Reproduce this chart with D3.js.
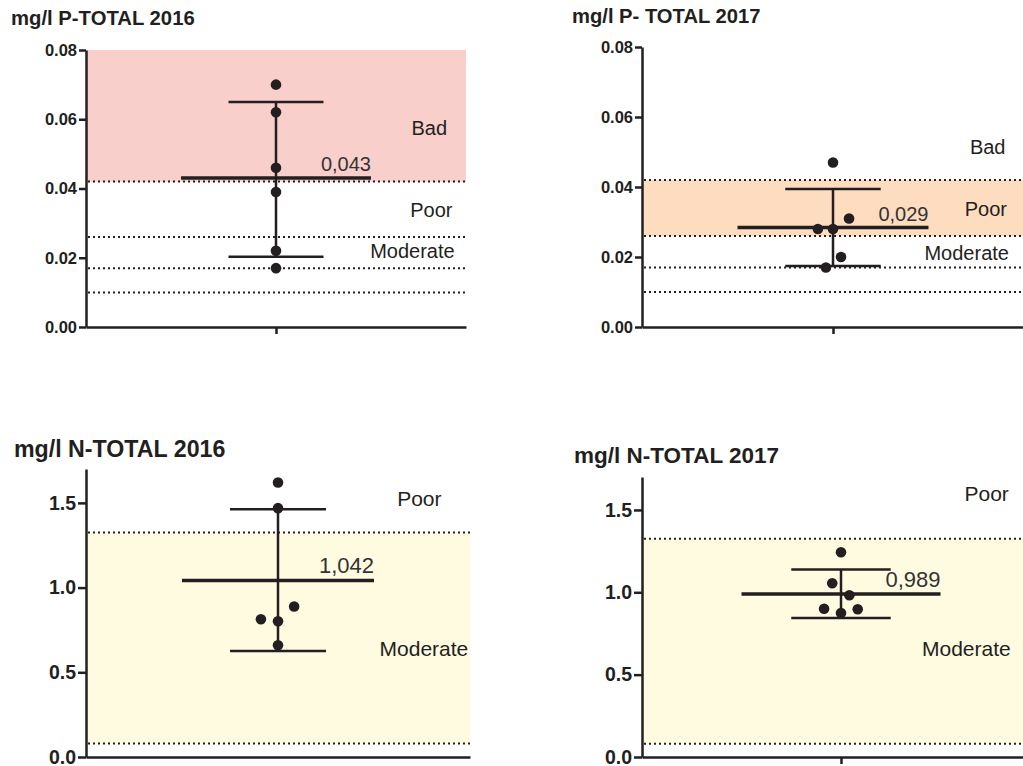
<!DOCTYPE html>
<html>
<head>
<meta charset="utf-8">
<script src="https://cdn.jsdelivr.net/npm/d3@7"></script>
<style>
  body { margin: 0; background: #fff; }
  svg { display: block; font-family: "Liberation Sans", Arial, sans-serif; }
  .axis path, .axis line { stroke: #231f20; stroke-width: 2.5px; }
  .axis text { fill: #231f20; font-weight: bold; }
</style>
</head>
<body>
<script>
// Panel titles
var titles = ['mg/l P-TOTAL 2016', 'mg/l P- TOTAL 2017', 'mg/l N-TOTAL 2016', 'mg/l N-TOTAL 2017'];

var pTotal2016 = [0.070, 0.062, 0.046, 0.039, 0.022, 0.017],
    pTotal2017 = [0.047, 0.031, 0.028, 0.028, 0.020, 0.017],
    nTotal2016 = [1.620, 1.469, 0.888, 0.813, 0.801, 0.660],
    nTotal2017 = [1.243, 1.055, 0.982, 0.900, 0.874, 0.897];

// Horizontal scatter of the dots (in x-domain units, centre = 0)
var pTotal2016Jitter = [0, 0, 0, 0, 0, 0],
    pTotal2017Jitter = [0, 0.084, -0.079, 0, 0.042, -0.037],
    nTotal2016Jitter = [0, 0, 0.084, -0.089, 0, 0],
    nTotal2017Jitter = [0, -0.044, 0.042, -0.085, 0, 0.084];

// Mean and error bar ends
var means = [0.043, 0.0284, 1.042, 0.990],
    meanLabels = ['0,043', '0,029', '1,042', '0,989'],
    errLow = [0.0203, 0.0174, 0.626, 0.844],
    errHigh = [0.065, 0.0394, 1.463, 1.139];

// Class limits (dotted lines) and axis ticks
var pThresholds = [0.042, 0.026, 0.017, 0.010],
    nThresholds = [1.325, 0.08],
    pTicks = [0, 0.02, 0.04, 0.06, 0.08],
    nTicks = [0, 0.5, 1.0, 1.5];

// Shaded class bands [low, high]
var bands = [[0.042, 0.08], [0.026, 0.042], [0.08, 1.325], [0.08, 1.325]],
    bandColors = ['#f9cfcb', '#fddcbf', '#fefbe0', '#fefbe0'];

// Class names and the value they are written at
var zoneNames = [['Bad', 'Poor', 'Moderate'], ['Bad', 'Poor', 'Moderate'], ['Poor', 'Moderate'], ['Poor', 'Moderate']],
    zoneValues = [[0.0575, 0.0338, 0.022], [0.0514, 0.0337, 0.0211], [1.524, 0.638], [1.597, 0.656]];

// ---- layout (pixels) ----
var frames = [
    {x0: 86, x1: 466, yTop: 50, yBot: 327, max: 0.08, fmt: '.2f', tickFont: 16.5, tickSize: 7, titleX: 11, titleY: 25, titleSize: 20.3, meanSize: 20, zoneSize: 20, xTick: true, zoneX: [0.807, 0.818, 0.718]},
    {x0: 642, x1: 1024, yTop: 47, yBot: 327, max: 0.08, fmt: '.2f', tickFont: 16.5, tickSize: 7, titleX: 572, titleY: 23, titleSize: 20.2, meanSize: 20, zoneSize: 20, xTick: true, zoneX: [0.81, 0.80, 0.70]},
    {x0: 86, x1: 470, yTop: 469, yBot: 757, max: 1.7, fmt: '.1f', tickFont: 19.5, tickSize: 8, titleX: 14, titleY: 457, titleSize: 23.2, meanSize: 22, zoneSize: 21, xTick: false, zoneX: [0.736, 0.76]},
    {x0: 642, x1: 1040, yTop: 477, yBot: 757, max: 1.7, fmt: '.1f', tickFont: 19.5, tickSize: 8, titleX: 574, titleY: 463, titleSize: 22.5, meanSize: 22, zoneSize: 21, xTick: true, zoneX: [0.732, 0.63]}
];

var values = [pTotal2016, pTotal2017, nTotal2016, nTotal2017],
    jitters = [pTotal2016Jitter, pTotal2017Jitter, nTotal2016Jitter, nTotal2017Jitter],
    thresholds = [pThresholds, pThresholds, nThresholds, nThresholds],
    ticks = [pTicks, pTicks, nTicks, nTicks];

var ink = '#231f20';

var svg = d3.select('body').append('svg')
    .attr('width', 1023)
    .attr('height', 766);

frames.forEach(function(f, i) {
    var g = svg.append('g');

    var x = d3.scaleLinear().domain([-1, 1]).range([f.x0, f.x1]);
    var y = d3.scaleLinear().domain([0, f.max]).range([f.yBot, f.yTop]);

    // Shaded band
    g.append('rect')
        .attr('x', f.x0 + 1)
        .attr('width', f.x1 - f.x0 - 1)
        .attr('y', y(bands[i][1]))
        .attr('height', y(bands[i][0]) - y(bands[i][1]))
        .attr('fill', bandColors[i]);

    // Dotted class limits
    g.selectAll('.limit')
        .data(thresholds[i])
        .enter()
        .append('line')
        .attr('x1', f.x0 + 2)
        .attr('x2', f.x1)
        .attr('y1', function(d) { return y(d); })
        .attr('y2', function(d) { return y(d); })
        .attr('stroke', ink)
        .attr('stroke-width', 2)
        .attr('stroke-dasharray', '2,3');

    // Axes
    var yAxis = d3.axisLeft(y)
        .tickValues(ticks[i])
        .tickFormat(d3.format(f.fmt))
        .tickSize(f.tickSize)
        .tickSizeOuter(0)
        .tickPadding(2);
    var yg = g.append('g')
        .attr('class', 'axis')
        .attr('transform', 'translate(' + f.x0 + ',0)')
        .call(yAxis);
    yg.selectAll('text')
        .style('font-size', f.tickFont + 'px');

    var xAxis = d3.axisBottom(x)
        .tickValues(f.xTick ? [0] : [])
        .tickFormat('')
        .tickSize(7)
        .tickSizeOuter(0);
    g.append('g')
        .attr('class', 'axis')
        .attr('transform', 'translate(0,' + f.yBot + ')')
        .call(xAxis);

    // Error bar
    g.append('line')
        .attr('x1', x(0)).attr('x2', x(0))
        .attr('y1', y(errLow[i])).attr('y2', y(errHigh[i]))
        .attr('stroke', ink).attr('stroke-width', 2.5);
    g.selectAll('.cap')
        .data([errLow[i], errHigh[i]])
        .enter()
        .append('line')
        .attr('x1', x(-0.25)).attr('x2', x(0.25))
        .attr('y1', function(d) { return y(d); })
        .attr('y2', function(d) { return y(d); })
        .attr('stroke', ink).attr('stroke-width', 2.5);

    // Mean line
    g.append('line')
        .attr('x1', x(-0.5)).attr('x2', x(0.5))
        .attr('y1', y(means[i])).attr('y2', y(means[i]))
        .attr('stroke', ink).attr('stroke-width', 3.5);

    g.append('text')
        .attr('x', x(0.5))
        .attr('y', y(means[i]) - 7)
        .attr('text-anchor', 'end')
        .style('font-size', f.meanSize + 'px')
        .attr('fill', '#333')
        .text(meanLabels[i]);

    // Points
    g.selectAll('.point')
        .data(values[i])
        .enter()
        .append('circle')
        .attr('cx', function(d, k) { return x(jitters[i][k]); })
        .attr('cy', function(d) { return y(d); })
        .attr('r', 5.3)
        .attr('fill', ink);

    // Class names
    g.selectAll('.zone')
        .data(zoneNames[i])
        .enter()
        .append('text')
        .attr('x', function(d, k) { return x(f.zoneX[k]); })
        .attr('y', function(d, k) { return y(zoneValues[i][k]); })
        .attr('dy', '0.35em')
        .attr('text-anchor', 'middle')
        .style('font-size', f.zoneSize + 'px')
        .attr('fill', ink)
        .text(function(d) { return d; });

    // Title
    svg.append('text')
        .attr('x', f.titleX)
        .attr('y', f.titleY)
        .style('font-size', f.titleSize + 'px')
        .style('font-weight', 'bold')
        .attr('fill', ink)
        .text(titles[i]);
});
</script>
</body>
</html>
